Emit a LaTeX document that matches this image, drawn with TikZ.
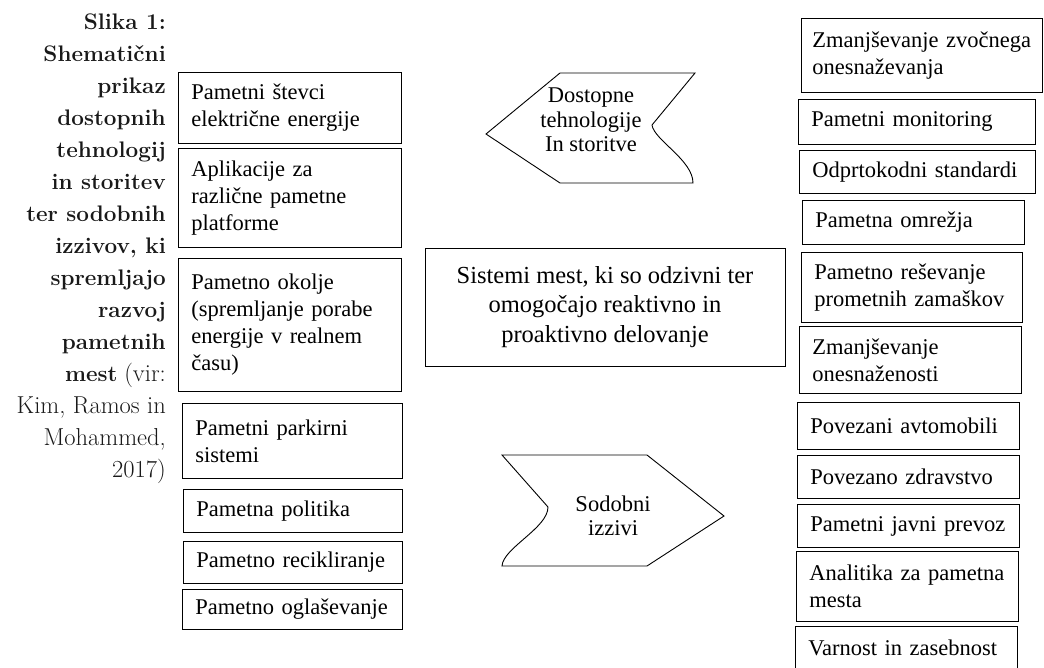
\documentclass[tikz,border=0pt]{standalone}
\usepackage{fontspec}
\usepackage{tikz}
\usetikzlibrary{shapes,arrows}
\newfontfamily\boxfont{Liberation Serif}
\tikzstyle{block} = [rectangle, draw, anchor=north west, align=left,
    inner xsep=13pt, inner ysep=0pt, line width=0.9pt,
    font=\boxfont\fontsize{22.5}{27}\selectfont]
\tikzstyle{mainblock} = [rectangle, draw, align=center, inner sep=0pt,
    line width=0.9pt, font=\boxfont\fontsize{24.5}{29.5}\selectfont]
\tikzstyle{sign} = [draw, line width=0.9pt, fill=white]
\tikzstyle{signtext} = [align=center, inner sep=0pt,
    font=\boxfont\fontsize{22.5}{24.5}\selectfont]

\begin{document}
\begin{tikzpicture}[x=1pt, y=-1pt]
    \useasboundingbox (0,0) rectangle (1044,667);
    \clip (0,0) rectangle (1044,667);

    % Caption
    \node [anchor=north east, inner sep=0pt, align=right, text=black!90,
        font=\fontsize{22.5}{32}\selectfont] (slika) at (166,14)
        {\textbf{Slika 1:}\\ \textbf{Shematični}\\ \textbf{prikaz}\\
         \textbf{dostopnih}\\ \textbf{tehnologij}\\ \textbf{in storitev}\\
         \textbf{ter sodobnih}\\ \textbf{izzivov, ki}\\ \textbf{spremljajo}\\
         \textbf{razvoj}\\ \textbf{pametnih}\\ \textbf{mest} {\fontsize{24.5}{32}\selectfont (vir:}\\
         {\fontsize{24.5}{32}\selectfont Kim, Ramos in}\\ {\fontsize{24.5}{32}\selectfont Mohammed,}\\
         {\fontsize{24.5}{32}\selectfont 2017)}};

    % Place nodes - technologies and services
    \node [block, text width=197pt, minimum height=71pt] (tech_1) at (178,72) {Pametni števci\\električne energije};
    \node [block, text width=197pt, minimum height=99pt] (tech_2) at (178,148) {Aplikacije za\\različne pametne\\platforme};
    \node [block, text width=197pt, minimum height=133pt] (tech_3) at (178,258) {Pametno okolje\\(spremljanje porabe\\energije v realnem\\času)};
    \node [block, text width=194pt, minimum height=75pt] (tech_4) at (182,403) {Pametni parkirni\\sistemi};
    \node [block, text width=193pt, minimum height=43pt] (tech_5) at (183,489) {Pametna politika};
    \node [block, text width=193pt, minimum height=42pt] (tech_6) at (183,541) {Pametno recikliranje};
    \node [block, text width=194pt, minimum height=40pt] (tech_7) at (182,589) {Pametno oglaševanje};

    % Place nodes - challenges
    \node [block, inner xsep=11pt, text width=219pt, minimum height=74pt] (izziv_1) at (801,18) {Zmanjševanje zvočnega\\onesnaževanja};
    \node [block, text width=211pt, minimum height=45pt] (izziv_2) at (798,99) {Pametni monitoring};
    \node [block, text width=210pt, minimum height=43pt] (izziv_3) at (799,150) {Odprtokodni standardi};
    \node [block, text width=196pt, minimum height=44pt] (izziv_4) at (802,200) {Pametna omrežja};
    \node [block, text width=195pt, minimum height=70pt] (izziv_5) at (801,252) {Pametno reševanje\\prometnih zamaškov};
    \node [block, text width=196pt, minimum height=67pt] (izziv_6) at (799,326) {Zmanjševanje\\onesnaženosti};
    \node [block, text width=196pt, minimum height=47pt] (izziv_7) at (797,402) {Povezani avtomobili};
    \node [block, text width=196pt, minimum height=43pt] (izziv_8) at (797,455) {Povezano zdravstvo};
    \node [block, text width=196pt, minimum height=43pt] (izziv_9) at (797,504) {Pametni javni prevoz};
    \node [block, text width=196pt, minimum height=70pt] (izziv_10) at (796,551) {Analitika za pametna\\mesta};
    \node [block, text width=196pt, minimum height=43pt] (izziv_11) at (795,626) {Varnost in zasebnost};

    % Centre
    \node [mainblock, minimum width=360pt, minimum height=118pt] (sistemi) at (605,307)
        {Sistemi mest, ki so odzivni ter\\omogočajo reaktivno in\\proaktivno delovanje};

    % Signs
    \draw [sign] (560,73) -- (695,73) -- (652,125)
        .. controls (654,140) and (693,160) .. (693,183) -- (560,183) -- (486,134) -- cycle;
    \node [signtext] (dostopne) at (591,120) {Dostopne\\tehnologije\\In storitve};

    \draw [sign] (502,455) -- (647,455) -- (724,516) -- (647,566) -- (502,566)
        .. controls (503,548) and (548,528) .. (548,507) -- cycle;
    \node [signtext] (sodobni) at (613,516) {Sodobni\\izzivi};

\end{tikzpicture}
\end{document}
